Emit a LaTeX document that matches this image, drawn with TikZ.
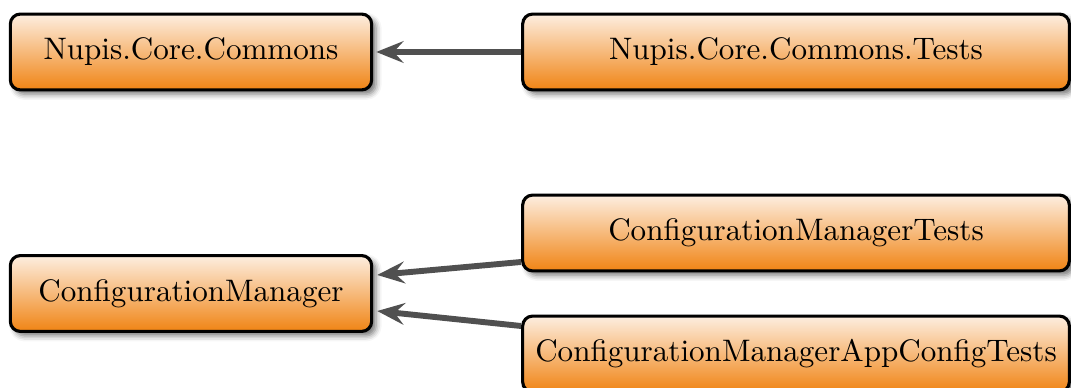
\documentclass[tikz,border=0pt]{standalone}
\usetikzlibrary{arrows.meta,shadows.blur,calc}
\definecolor{boxtop}{RGB}{253,238,224}
\definecolor{boxbot}{RGB}{240,132,20}
\definecolor{arrowgray}{RGB}{80,80,80}
\begin{document}
\begin{tikzpicture}[x=0.3216pt,y=-0.3216pt,
  modbox/.style={draw=black,line width=1pt,rounded corners=3.2pt,
    top color=boxtop,bottom color=boxbot,
    minimum height=24.4pt,inner sep=0pt,font=\fontsize{10}{12}\selectfont,
    blur shadow={shadow xshift=1.4pt,shadow yshift=-1.4pt,shadow blur radius=1.8pt,shadow opacity=55}},
  narrowbox/.style={modbox,minimum width=116.2pt},
  widebox/.style={modbox,minimum width=175.8pt},
  dep/.style={draw=arrowgray,line width=1.9pt,
    -{Stealth[length=8.8pt,width=7pt,inset=3.2pt]}}]
\useasboundingbox (0,0) rectangle (1071,388);
\node[narrowbox] (ncc) at (191,52) {Nupis.Core.Commons};
\node[widebox] (ncct) at (796,52) {Nupis.Core.Commons.Tests};
\node[widebox] (cmt) at (796,233) {ConfigurationManagerTests};
\node[narrowbox] (cm) at (191,293.5) {ConfigurationManager};
\node[widebox] (cmact) at (796,354) {ConfigurationManagerAppConfigTests};
\coordinate (e1) at ($(ncc.east)+(3,0)$);
\coordinate (s2) at ($(cmt.west)+(0,29)$);
\coordinate (e2) at ($(cm.east)+(4,-18.5)$);
\coordinate (s3) at ($(cmact.west)+(0,-28)$);
\coordinate (e3) at ($(cm.east)+(4,17.5)$);
\draw[dep] (ncct.west) -- (e1);
\draw[dep] (s2) -- (e2);
\draw[dep] (s3) -- (e3);
\end{tikzpicture}
\end{document}
